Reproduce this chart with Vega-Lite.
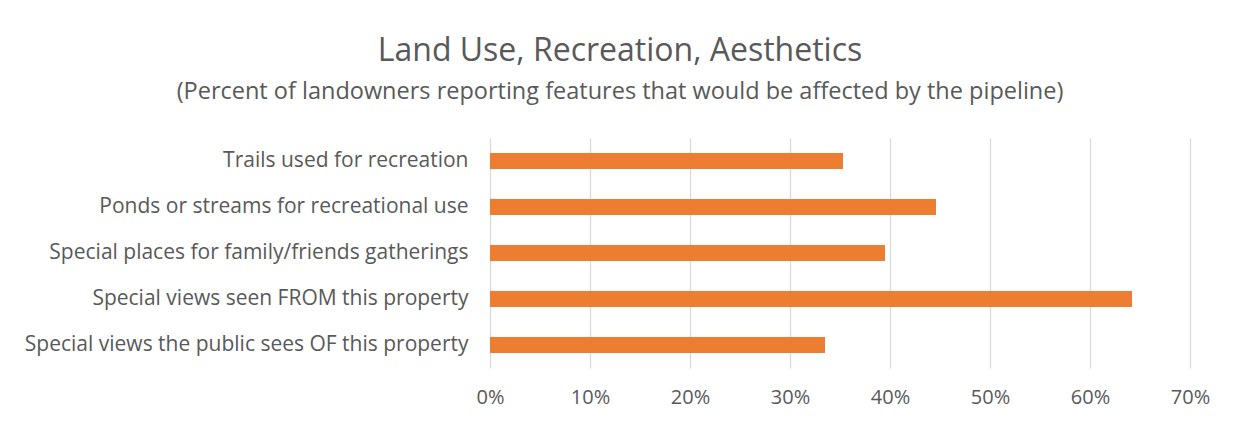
{
  "$schema": "https://vega.github.io/schema/vega-lite/v6.json",
  "autosize": "none",
  "width": 700,
  "height": 230,
  "padding": {"left": 490, "top": 138, "right": 51, "bottom": 53},
  "background": "white",
  "title": {
    "text": "Land Use, Recreation, Aesthetics",
    "subtitle": "(Percent of landowners reporting features that would be affected by the pipeline)",
    "anchor": "middle",
    "dx": -220,
    "offset": 34,
    "font": "Open Sans",
    "fontSize": 32,
    "fontWeight": "normal",
    "color": "#595959",
    "subtitleFont": "Open Sans",
    "subtitleFontSize": 23.5,
    "subtitleColor": "#595959",
    "subtitlePadding": 12
  },
  "data": {
    "values": [
      {"feature": "Trails used for recreation", "pct": 0.353},
      {"feature": "Ponds or streams for recreational use", "pct": 0.446},
      {"feature": "Special places for family/friends gatherings", "pct": 0.395},
      {"feature": "Special views seen FROM this property", "pct": 0.642},
      {"feature": "Special views the public sees OF this property", "pct": 0.335}
    ]
  },
  "mark": {"type": "bar", "color": "#ED7D31"},
  "encoding": {
    "y": {
      "field": "feature",
      "type": "nominal",
      "sort": null,
      "title": null,
      "scale": {"paddingInner": 0.65, "paddingOuter": 0.325},
      "axis": {
        "domain": false,
        "ticks": false,
        "labelPadding": 22,
        "labelFont": "Open Sans",
        "labelFontSize": 21,
        "labelColor": "#595959",
        "labelLimit": 600
      }
    },
    "x": {
      "field": "pct",
      "type": "quantitative",
      "title": null,
      "scale": {"domain": [0, 0.7], "nice": false},
      "axis": {
        "format": ".0%",
        "values": [0, 0.1, 0.2, 0.3, 0.4, 0.5, 0.6, 0.7],
        "domain": false,
        "ticks": false,
        "grid": true,
        "gridColor": "#d9d9d9",
        "gridWidth": 1.3,
        "labelOverlap": false,
        "labelFlush": false,
        "labelPadding": 19,
        "labelFont": "Open Sans",
        "labelFontSize": 20,
        "labelColor": "#595959"
      }
    }
  },
  "config": {"view": {"stroke": null}}
}
